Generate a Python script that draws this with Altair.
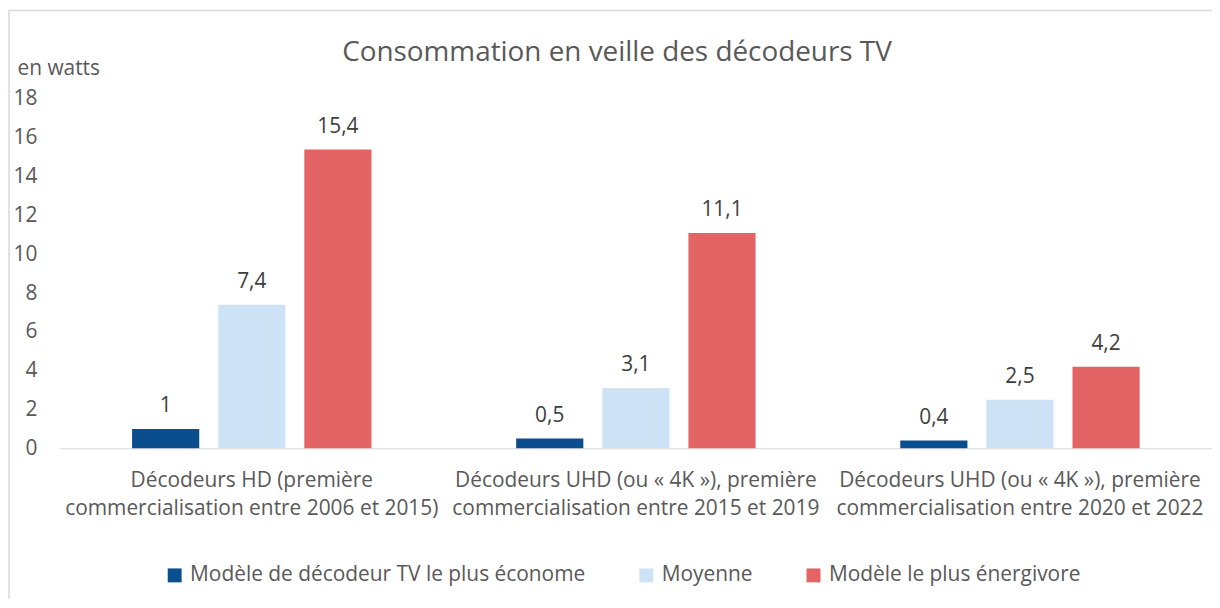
import altair as alt
import pandas as pd

categories = [
    "Décodeurs HD (première|commercialisation entre 2006 et 2015)",
    "Décodeurs UHD (ou « 4K »), première|commercialisation entre 2015 et 2019",
    "Décodeurs UHD (ou « 4K »), première|commercialisation entre 2020 et 2022",
]
series = ["Modèle de décodeur TV le plus économe", "Moyenne", "Modèle le plus énergivore"]
econome = [1, 0.5, 0.4]
moyenne = [7.4, 3.1, 2.5]
energivore = [15.4, 11.1, 4.2]
y_ticks = [0, 2, 4, 6, 8, 10, 12, 14, 16, 18]
colors = ["#0B4E8E", "#CDE3F5", "#E46465"]

rows = []
for vals, s in zip([econome, moyenne, energivore], series):
    for c, v in zip(categories, vals):
        rows.append({"cat": c, "serie": s, "value": v})
df = pd.DataFrame(rows)

FONT = "Open Sans"
FS = 21
W, H = 1158, 351

yaxis = alt.Axis(values=y_ticks, tickCount=10, grid=False, domain=False, ticks=False,
                 labelFontSize=FS, labelColor="#595959", labelFont=FONT,
                 labelPadding=23, labelOverlap=False, labelBound=False, labelFlush=False,
                 title="en watts", titleAngle=0, titleAlign="left",
                 titleBaseline="middle", titleX=-43, titleY=-31, titleFontSize=FS,
                 titleFontWeight="normal", titleColor="#595959", titleFont=FONT)

base = alt.Chart(df).encode(
    x=alt.X("cat:N", sort=categories,
            scale=alt.Scale(paddingInner=0, paddingOuter=0),
            axis=alt.Axis(title=None, labelAngle=0, ticks=False, domainColor="#D9D9D9",
                          domainWidth=1, labelFontSize=FS, labelColor="#595959",
                          labelFont=FONT, labelPadding=21, labelLineHeight=29,
                          labelExpr="split(datum.label, '|')", labelLimit=500,
                          labelOverlap=False)),
    xOffset=alt.XOffset("serie:N", sort=series,
                        scale=alt.Scale(paddingInner=0.22, paddingOuter=0.84)),
    y=alt.Y("value:Q", scale=alt.Scale(domain=[0, 18], nice=False, zero=True), axis=yaxis),
)

bars = base.mark_bar().encode(
    color=alt.Color("serie:N", sort=series, scale=alt.Scale(domain=series, range=colors),
                    legend=alt.Legend(title=None, orient="none", direction="horizontal",
                                      legendX=105, legendY=468, symbolType="square",
                                      symbolSize=196, symbolStrokeWidth=0, labelFontSize=FS,
                                      labelColor="#595959", labelFont=FONT, labelOffset=5,
                                      columnPadding=50, labelLimit=600)),
)

labels = base.transform_calculate(
    lab="replace(toString(datum.value), '.', ',')"
).mark_text(baseline="middle", dy=-23, fontSize=FS, color="#404040", font=FONT).encode(
    text="lab:N",
)

border = alt.Chart(pd.DataFrame({"a": [0]})).mark_rect(
    fill=None, stroke="#D9D9D9", strokeWidth=1.5
).encode(x=alt.value(-51), x2=alt.value(W + 20), y=alt.value(-89), y2=alt.value(H + 200))

chart = alt.layer(border, bars, labels).properties(
    width=W, height=H,
    title=alt.TitleParams("Consommation en veille des décodeurs TV", anchor="middle", dx=-19,
                          fontSize=28, fontWeight="normal", color="#595959", font=FONT,
                          offset=-58),
    padding={"left": 52, "top": 90, "right": 0, "bottom": 150},
    autosize=alt.AutoSizeParams(type="none"),
).configure_view(stroke=None)

chart.save("out.html", embed_options={"renderer": "svg", "actions": False})
